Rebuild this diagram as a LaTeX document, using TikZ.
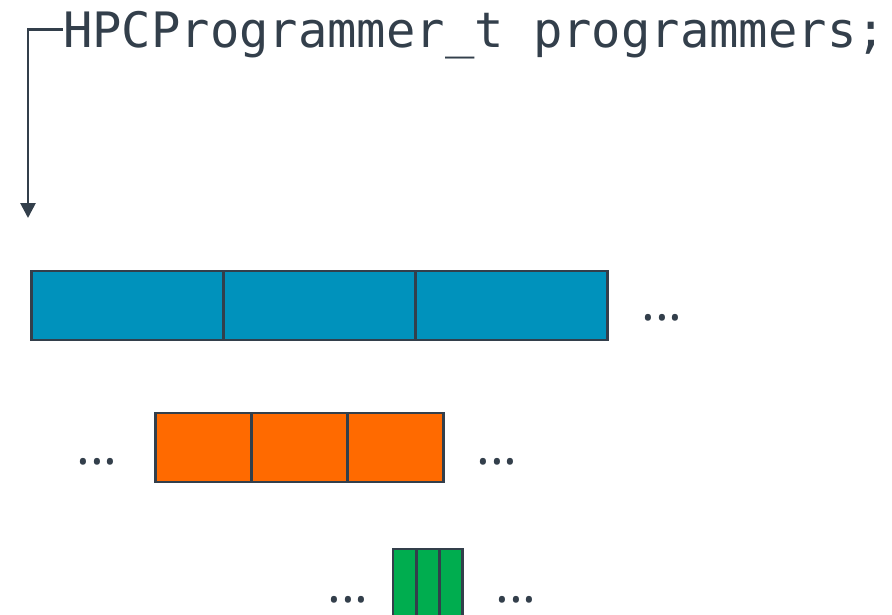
\documentclass[tikz,border=0pt]{standalone}
\usepackage{fontspec}
\newfontfamily\codefont{DejaVu Sans Mono}
\newfontfamily\dotfont{Open Sans}
\usetikzlibrary{arrows.meta}

\definecolor{slate}{HTML}{333F4B}
\definecolor{cellblue}{HTML}{0092BC}
\definecolor{cellorange}{HTML}{FF6A00}
\definecolor{cellgreen}{HTML}{00AD4F}

\tikzset{
    cell/.style={
        draw=slate,
        line width=2.7pt,
        inner sep=0pt,
        minimum height=69pt,
        anchor=north west
    },
    prog/.style={
        cell,
        fill=cellblue,
        minimum width=192pt
    },
    team/.style={
        cell,
        fill=cellorange,
        minimum width=96pt
    },
    skill/.style={
        cell,
        fill=cellgreen,
        minimum width=23.3pt
    },
    more/.style={
        text=slate,
        inner sep=0pt,
        font=\dotfont\fontsize{52}{52}\selectfont
    },
    pointer/.style={
        draw=slate,
        line width=2.7pt,
        -{Triangle[width=15pt,length=15pt]}
    }
}

\begin{document}
\begin{tikzpicture}[x=1pt,y=-1pt]
    \useasboundingbox (0,0) rectangle (892,614);

    % Deklaration
    \path
        node[anchor=base west,inner sep=0pt,text=slate,
             font=\codefont\fontsize{48.8}{48.8}\selectfont]
             at (63,47) (decl) {HPCProgrammer\_t programmers;};
    \coordinate (tip) at (28,218);

    % Erste Ebene
    \path
        node[prog] at ( 30.0,269.5) (p1) {}
        node[prog] at (222.0,269.5) (p2) {}
        node[prog] at (414.0,269.5) (p3) {}
        node[more] at (662,318) (pmore) {...};

    % Zweite Ebene
    \path
        node[team] at (154,411.5) (t1) {}
        node[team] at (250,411.5) (t2) {}
        node[team] at (346,411.5) (t3) {}
        node[more] at ( 97,462) (tless) {...}
        node[more] at (497,462) (tmore) {...};

    % Dritte Ebene
    \path
        node[skill] at (391.5,547.5) (s1) {}
        node[skill] at (414.8,547.5) (s2) {}
        node[skill] at (438.1,547.5) (s3) {}
        node[more] at (348,600) (sless) {...}
        node[more] at (516,600) (smore) {...};

    % Zeiger
    \draw[pointer] ([yshift=5pt]decl.west) -| (tip);
\end{tikzpicture}
\end{document}
